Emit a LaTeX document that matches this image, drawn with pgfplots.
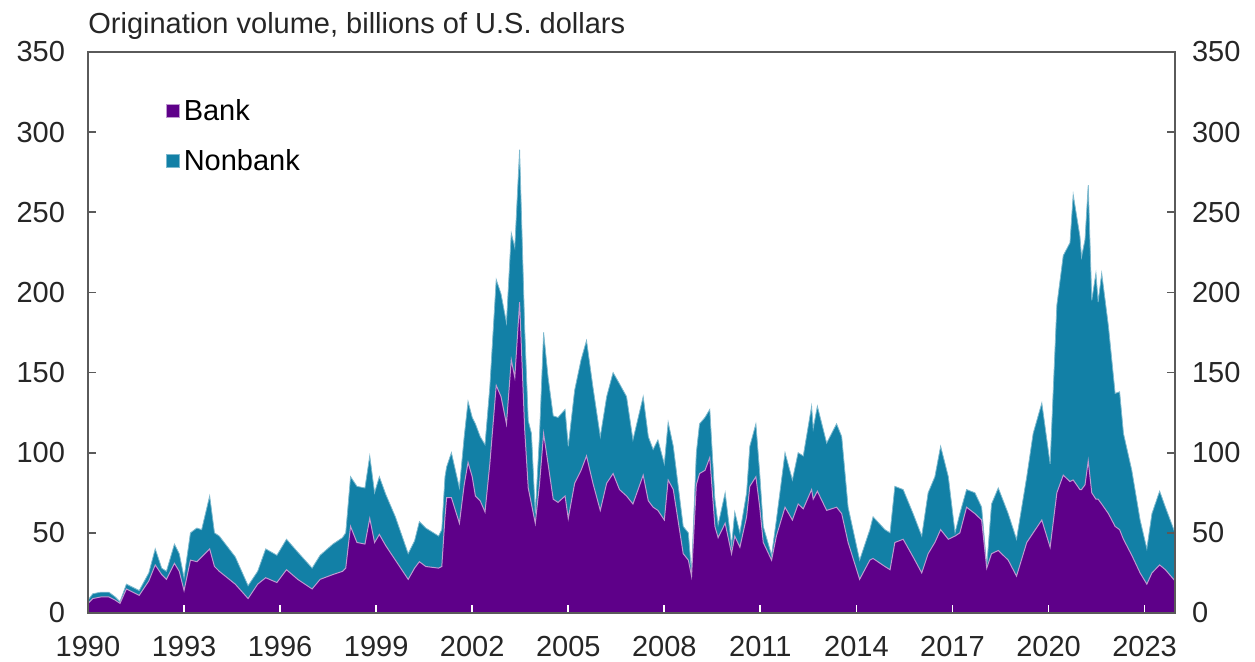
\documentclass[border=0pt]{standalone}
\usepackage{pgfplots}
\pgfplotsset{compat=1.18}
\usepackage{pgfplotstable}
\usepackage{fontspec}
\setmainfont{Liberation Sans}

\definecolor{bankpurple}{RGB}{94,0,137}
\definecolor{nonbankteal}{RGB}{18,128,166}
\definecolor{axisgray}{RGB}{90,90,90}

% origination volume, billions of U.S. dollars
\pgfplotstableread{
year bank nonbank
1990.00 6 2
1990.15 9 3
1990.40 10 3
1990.65 10 3
1990.85 8 2
1991.00 6 1
1991.20 15 3
1991.40 13 3
1991.60 11 3
1991.90 20 5
1992.10 30 10
1992.30 24 4
1992.45 21 5
1992.70 31 12
1992.85 26 11
1993.00 14 8
1993.20 33 17
1993.40 32 21
1993.55 35 17
1993.80 40 33
1993.95 29 21
1994.10 26 22
1994.60 18 17
1995.00 9 8
1995.30 18 8
1995.55 22 18
1995.90 19 17
1996.20 27 19
1996.55 21 17
1997.00 15 13
1997.25 21 15
1997.65 24 19
1997.95 26 21
1998.05 28 22
1998.20 54 31
1998.40 44 35
1998.65 43 35
1998.80 59 39
1998.95 44 31
1999.10 49 36
1999.30 42 32
1999.60 33 27
2000.00 21 16
2000.20 28 17
2000.35 32 25
2000.55 29 24
2000.95 28 20
2001.05 29 23
2001.15 60 25
2001.20 72 19
2001.35 72 28
2001.60 56 22
2001.75 80 30
2001.87 94 38
2002.00 85 37
2002.10 73 45
2002.25 70 40
2002.40 63 42
2002.55 93 48
2002.75 142 66
2002.90 135 64
2003.07 118 63
2003.22 158 79
2003.33 147 81
2003.48 194 95
2003.64 114 63
2003.75 78 42
2003.85 68 44
2003.97 56 6
2004.10 80 30
2004.23 112 63
2004.37 93 54
2004.53 71 52
2004.68 69 53
2004.90 73 54
2005.00 59 45
2005.20 81 58
2005.40 89 69
2005.57 98 72
2005.77 81 60
2006.00 64 46
2006.20 81 54
2006.40 87 63
2006.60 77 66
2006.82 73 62
2007.02 68 40
2007.34 86 49
2007.50 70 40
2007.65 66 36
2007.80 64 44
2008.00 58 35
2008.12 83 36
2008.28 77 27
2008.59 37 17
2008.75 33 17
2008.85 23 2
2009.00 80 20
2009.10 87 31
2009.27 89 33
2009.42 97 30
2009.58 54 17
2009.68 47 8
2009.90 56 19
2010.10 37 5
2010.20 48 15
2010.36 41 9
2010.57 60 15
2010.67 79 25
2010.86 85 33
2010.98 66 21
2011.09 44 10
2011.35 33 3
2011.50 48 10
2011.77 66 34
2012.00 58 25
2012.18 68 32
2012.34 65 33
2012.60 77 52
2012.65 71 44
2012.78 76 53
2013.07 64 42
2013.38 66 52
2013.54 62 48
2013.74 44 22
2014.10 21 12
2014.42 33 19
2014.52 34 26
2014.89 29 23
2015.05 27 23
2015.20 44 35
2015.46 46 31
2015.77 35 27
2016.04 25 23
2016.24 37 38
2016.45 44 41
2016.63 52 52
2016.87 46 39
2017.08 48 2
2017.23 50 12
2017.44 66 11
2017.70 62 13
2017.91 58 8
2018.07 28 1
2018.22 37 31
2018.43 39 39
2018.74 33 29
2019.00 23 23
2019.32 44 41
2019.52 50 62
2019.79 58 73
2020.05 41 52
2020.26 75 117
2020.46 86 137
2020.67 82 149
2020.77 83 178
2020.98 77 158
2021.03 77 145
2021.14 80 153
2021.24 95 172
2021.35 75 120
2021.48 71 141
2021.55 71 123
2021.66 68 144
2021.87 62 117
2022.08 54 83
2022.22 52 86
2022.34 46 66
2022.60 36 53
2022.86 25 33
2023.07 18 22
2023.23 25 37
2023.47 30 46
2023.65 27 39
2023.95 20 30
}\origination

\begin{document}
\begin{tikzpicture}
\pgfplotsset{
  chartaxis/.style={
    scale only axis, width=543.5pt, height=280.5pt,
    xmin=1990, xmax=2023.95, ymin=0, ymax=350,
    ytick={0,50,...,350},
    tick label style={font=\fontsize{14.5}{17}\selectfont, text=black!85},
    /pgf/number format/assume math mode=true,
    tick align=inside, major tick length=4pt,
  },
}
\begin{axis}[
  chartaxis, name=main,
  xtick={1990,1993,...,2023},
  xticklabel style={/pgf/number format/1000 sep={}, yshift=-8pt},
  yticklabel style={xshift=-8pt},
  xtick pos=bottom, ytick pos=both,
  xtick style={draw=white, line width=0.9pt},
  ytick style={draw=axisgray, line width=0.9pt},
  y axis line style={draw=axisgray, line width=0.9pt},
  x axis line style={draw=none},
  axis on top,
  reverse legend,
  legend cell align=left,
  legend style={at={(rel axis cs:0.071,0.850)}, anchor=west, draw=none, fill=none,
    inner sep=0pt, row sep=9pt, font=\fontsize{14.5}{17}\selectfont},
  legend image code/.code={\fill[#1] (0pt,-3.3pt) rectangle (6.6pt,3.3pt);},
]
\addplot[fill=nonbankteal, draw=nonbankteal!55!white, line width=0.4pt]
  table[x=year, y expr=\thisrow{bank}+\thisrow{nonbank}] {\origination} \closedcycle;
\addlegendentry{Nonbank}
\addplot[fill=bankpurple, draw=bankpurple!40!white, line width=0.5pt]
  table[x=year, y=bank] {\origination} \closedcycle;
\addlegendentry{Bank}
\end{axis}
\begin{axis}[
  chartaxis,
  hide x axis,
  axis y line*=right,
  y axis line style={draw=none},
  major tick length=0pt,
  yticklabel style={xshift=5pt},
]
\end{axis}
\draw[axisgray, line width=0.9pt] (main.north west) -- (main.north east);
\node[anchor=base west, inner sep=0pt, font=\fontsize{14.5}{17}\selectfont, text=black!85]
  at ([yshift=9.4pt]main.north west) {Origination volume, billions of U.S. dollars};
\pgfresetboundingbox
\path ([shift={(-44pt,-24.5pt)}]main.south west) rectangle ([shift={(40pt,26pt)}]main.north east);
\end{tikzpicture}
\end{document}
